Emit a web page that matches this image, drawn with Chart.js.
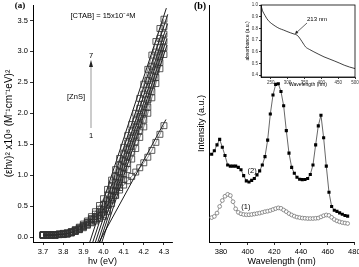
<!DOCTYPE html>
<html><head><meta charset="utf-8">
<script src="https://cdn.jsdelivr.net/npm/chart.js@4"></script>
<style>
html,body{margin:0;padding:0;background:#fff;}
#wrap{position:relative;width:359px;height:267px;overflow:hidden;background:#fff;}
.box{position:absolute;}
</style></head><body>
<div id="wrap">
<div class="box" style="left:0;top:0;width:180px;height:267px"><canvas id="ca"></canvas></div>
<div class="box" style="left:180px;top:0;width:179px;height:267px"><canvas id="cb"></canvas></div>
<div class="box" style="left:240px;top:0;width:119px;height:92px"><canvas id="ci"></canvas></div>
</div>
<script>
// ---------- Panel (a) data ----------
const energyA = [3.70,3.72,3.74,3.76,3.78,3.80,3.82,3.84,3.86,3.88,3.90,3.92,3.94,3.96,3.98,4.00,4.02,4.04,4.06,4.08,4.10,4.12,4.14,4.16,4.18,4.20,4.22,4.24,4.26,4.28,4.30];
const seriesA1 = [0.03,0.03,0.03,0.03,0.04,0.04,0.05,0.07,0.10,0.13,0.18,0.23,0.28,0.33,0.39,0.45,0.52,0.60,0.68,0.76,0.84,0.91,0.98,1.05,1.12,1.20,1.29,1.40,1.53,1.66,1.80];
const seriesA2 = [0.03,0.03,0.03,0.03,0.04,0.04,0.05,0.07,0.09,0.12,0.15,0.19,0.23,0.26,0.30,0.33,0.41,0.54,0.67,0.80,0.93,1.09,1.26,1.43,1.61,1.78,2.00,2.25,2.48,2.72,2.95];
const seriesA3 = [0.03,0.03,0.03,0.03,0.04,0.05,0.05,0.07,0.09,0.12,0.16,0.20,0.24,0.28,0.32,0.36,0.47,0.60,0.74,0.88,1.02,1.19,1.37,1.54,1.72,1.89,2.10,2.35,2.58,2.82,3.06];
const seriesA4 = [0.03,0.03,0.03,0.03,0.04,0.05,0.06,0.07,0.10,0.13,0.17,0.21,0.26,0.30,0.35,0.40,0.53,0.67,0.81,0.96,1.12,1.30,1.47,1.65,1.83,2.01,2.22,2.47,2.70,2.94,3.17];
const seriesA5 = [0.03,0.03,0.03,0.04,0.04,0.05,0.06,0.08,0.11,0.14,0.18,0.23,0.28,0.33,0.39,0.45,0.60,0.75,0.89,1.05,1.23,1.41,1.59,1.77,1.95,2.15,2.37,2.60,2.83,3.06,3.28];
const seriesA6 = [0.04,0.04,0.04,0.04,0.05,0.05,0.06,0.08,0.11,0.15,0.19,0.24,0.30,0.37,0.45,0.53,0.68,0.83,0.98,1.16,1.34,1.52,1.70,1.88,2.08,2.31,2.53,2.76,2.99,3.21,3.40];
const seriesA7 = [0.04,0.04,0.04,0.04,0.05,0.06,0.07,0.09,0.12,0.16,0.21,0.26,0.33,0.41,0.51,0.62,0.77,0.92,1.09,1.27,1.45,1.64,1.82,2.00,2.24,2.47,2.71,2.94,3.16,3.37,3.52];
const fitX0 = [3.975,3.99,3.98,3.97,3.958,3.945,3.93];
const fitY0 = [-0.10,-0.10,-0.10,-0.10,-0.10,-0.10,-0.10];
const fitX1 = [4.31,4.315,4.314,4.313,4.318,4.319,4.312];
const fitY1 = [1.90,3.10,3.20,3.30,3.45,3.60,3.70];
const xTicksA = [3.7,3.8,3.9,4.0,4.1,4.2,4.3];
const yTicksA = [0.0,0.5,1.0,1.5,2.0,2.5,3.0,3.5];

// ---------- Panel (b) data ----------
const wavelengthB = [373,375,377,379,381,383,385,387,389,391,393,395,397,399,401,403,405,407,409,411,413,415,417,419,421,423,425,427,429,431,433,435,437,439,441,443,445,447,449,451,453,455,457,459,461,463,465,467,469,471,473,475];
const seriesB2 = [37,38.5,41,43.3,40,36.5,32.5,32,32,32,31.5,30.5,28,25.8,25.3,26,26.8,28.3,30,32.5,36,43,54,62,66.5,66.8,63.5,57.5,47,37.5,31.5,29,27.3,26.5,26.3,26.4,26.8,28.5,32.5,41,49,53.5,44,32,21,15,13.4,12.9,12.3,11.7,11.2,10.9];
const seriesB1 = [10.3,10.8,12.2,15,17.5,19.3,20.1,19.6,17,14,12.5,11.9,11.6,11.5,11.5,11.6,11.8,12,12.2,12.5,12.8,13,13.3,13.7,14.1,14.4,14.2,13.5,12.8,12,11.4,10.9,10.5,10.3,10.1,10,9.9,9.9,9.9,10,10.1,10.6,11.1,11.4,11.2,10.4,9.5,8.9,8.5,8.2,8,7.8];
const xTicksB = [380,400,420,440,460,480];

// ---------- Inset data ----------
const insetNm = [221,225,229,233,238,243,253,263,275,288,298,308,316,323,328,333,338,343,348,353,365,378,393,408,423,438,453,468,484,500];
const insetAbs = [1.0,0.955,0.93,0.91,0.885,0.866,0.84,0.82,0.80,0.786,0.774,0.763,0.755,0.749,0.742,0.728,0.708,0.686,0.664,0.643,0.62,0.60,0.578,0.557,0.54,0.523,0.505,0.486,0.47,0.457];
const xTicksI = [250,300,350,400,450,500];
const yTicksI = [0.4,0.5,0.6,0.7,0.8,0.9,1.0];

const FONT = "'Liberation Sans', Arial, Helvetica, sans-serif";
const SERIF = "'Liberation Serif', 'Times New Roman', serif";
Chart.defaults.font.family = FONT;
Chart.defaults.color = '#000';

const pts = (xs, ys) => xs.map((x, i) => ({x: x, y: ys[i]}));
const setTicks = arr => s => { s.ticks = arr.map(v => ({value: v})); };
const fixH = h => s => { s.height = h; s.paddingLeft = 0; s.paddingRight = 0; };
const fixW = w => s => { s.width = w; s.paddingTop = 0; s.paddingBottom = 0; };
const axisGrid = len => ({display: true, drawOnChartArea: false, drawTicks: true, tickLength: len, color: '#000', lineWidth: 0.8});
const axisBorder = {display: true, color: '#000', width: 1};

// ---------- Chart (a) ----------
const aSeries = [seriesA1, seriesA2, seriesA3, seriesA4, seriesA5, seriesA6, seriesA7];
const dsA = [];
aSeries.forEach(s => dsA.push({
  data: pts(energyA, s), showLine: true, borderColor: '#222', borderWidth: 0.5,
  pointStyle: 'rect', pointRadius: 4.2, pointBorderWidth: 0.8,
  pointBorderColor: '#333', pointBackgroundColor: 'rgba(0,0,0,0)'
}));
fitX0.forEach((x0, i) => dsA.push({
  data: [{x: x0, y: fitY0[i]}, {x: fitX1[i], y: fitY1[i]}],
  showLine: true, borderColor: '#000', borderWidth: 0.9, pointRadius: 0
}));

const annotA = {
  id: 'annotA',
  afterDraw(chart) {
    const c = chart.ctx;
    c.save();
    c.fillStyle = '#000';
    c.textAlign = 'center'; c.textBaseline = 'middle';
    c.font = 'bold 9px ' + SERIF;
    c.fillText('(a)', 20, 6);
    c.font = '7.5px ' + FONT;
    c.fillText('[CTAB] = 15x10⁻⁴M', 103, 15.5);
    c.fillText('7', 91, 56);
    c.fillText('1', 91, 136);
    c.fillText('[ZnS]', 76, 97);
    c.strokeStyle = '#999'; c.lineWidth = 1;
    c.beginPath(); c.moveTo(91, 128); c.lineTo(91, 66); c.stroke();
    c.fillStyle = '#222';
    c.beginPath(); c.moveTo(91, 60); c.lineTo(89, 67); c.lineTo(93, 67); c.closePath(); c.fill();
    c.restore();
  }
};

new Chart(document.getElementById('ca'), {
  type: 'line',
  data: {datasets: dsA},
  options: {
    responsive: true, maintainAspectRatio: false, animation: false, devicePixelRatio: 1,
    layout: {padding: {left: 0, top: 5, right: 8, bottom: 0}},
    plugins: {legend: {display: false}, tooltip: {enabled: false}},
    scales: {
      x: {type: 'linear', min: 3.65, max: 4.34,
        afterBuildTicks: setTicks(xTicksA), afterFit: fixH(25),
        ticks: {font: {size: 7.5}, padding: 2, maxRotation: 0, callback: v => v.toFixed(1)},
        grid: axisGrid(3), border: axisBorder,
        title: {display: true, text: 'hν (eV)', font: {size: 9}, padding: {top: 0, bottom: 0}}},
      y: {type: 'linear', min: -0.08, max: 3.75,
        afterBuildTicks: setTicks(yTicksA), afterFit: fixW(33),
        ticks: {font: {size: 7.5}, padding: 2, callback: v => v.toFixed(1)},
        grid: axisGrid(3), border: axisBorder,
        title: {display: true, text: '(εhν)² x10⁸ (M⁻¹cm⁻¹eV)²', font: {size: 10}, padding: {top: 3, bottom: 0}}}
    }
  },
  plugins: [annotA]
});

// ---------- Chart (b) ----------
const annotB = {
  id: 'annotB',
  afterDraw(chart) {
    const c = chart.ctx, xs = chart.scales.x, ys = chart.scales.y;
    c.save();
    c.fillStyle = '#000';
    c.textAlign = 'center'; c.textBaseline = 'middle';
    c.font = 'bold 10px ' + SERIF;
    c.fillText('(b)', 20, 6);
    c.font = '7.5px ' + FONT;
    c.fillText('(1)', xs.getPixelForValue(398.6), ys.getPixelForValue(14.8));
    c.fillText('(2)', xs.getPixelForValue(403.3), ys.getPixelForValue(30));
    c.restore();
  }
};

new Chart(document.getElementById('cb'), {
  type: 'line',
  data: {datasets: [
    {data: pts(wavelengthB, seriesB2), borderColor: '#000', borderWidth: 0.6,
     pointStyle: 'rect', pointRadius: 2.2, pointBorderWidth: 0,
     pointBackgroundColor: '#000'},
    {data: pts(wavelengthB, seriesB1), borderColor: '#777', borderWidth: 0.7,
     pointStyle: 'circle', pointRadius: 1.9, pointBorderWidth: 0.7,
     pointBorderColor: '#666', pointBackgroundColor: '#fff'}
  ]},
  options: {
    responsive: true, maintainAspectRatio: false, animation: false, devicePixelRatio: 1,
    layout: {padding: {left: 0, top: 5, right: 4, bottom: 0}},
    plugins: {legend: {display: false}, tooltip: {enabled: false}},
    scales: {
      x: {type: 'linear', min: 371, max: 480,
        afterBuildTicks: setTicks(xTicksB), afterFit: fixH(25),
        ticks: {font: {size: 7.5}, padding: 2, maxRotation: 0},
        grid: axisGrid(3), border: axisBorder,
        title: {display: true, text: 'Wavelength (nm)', font: {size: 9}, padding: {top: 0, bottom: 0}}},
      y: {type: 'linear', min: 0, max: 100, afterFit: fixW(29),
        ticks: {display: false}, grid: {display: false}, border: axisBorder,
        title: {display: true, text: 'Intensity (a.u.)', font: {size: 9}, padding: {top: 16, bottom: 0}}}
    }
  },
  plugins: [annotB]
});

// ---------- Inset ----------
const annotI = {
  id: 'annotI',
  afterDraw(chart) {
    const c = chart.ctx, a = chart.chartArea;
    c.save();
    c.strokeStyle = '#000'; c.lineWidth = 0.8;
    c.strokeRect(a.left, a.top, a.right - a.left, a.bottom - a.top);
    c.fillStyle = '#000';
    c.font = '6px ' + FONT; c.textAlign = 'center'; c.textBaseline = 'middle';
    c.fillText('213 nm', 77, 19);
    c.strokeStyle = '#222'; c.lineWidth = 0.7;
    c.beginPath(); c.moveTo(67, 23); c.lineTo(56, 33); c.stroke();
    c.fillStyle = '#222';
    c.beginPath(); c.moveTo(55, 34); c.lineTo(56.2, 30.6); c.lineTo(58.4, 33); c.closePath(); c.fill();
    c.restore();
  }
};

new Chart(document.getElementById('ci'), {
  type: 'line',
  data: {datasets: [
    {data: pts(insetNm, insetAbs), borderColor: '#111', borderWidth: 0.8, pointRadius: 0,
     cubicInterpolationMode: 'monotone'}
  ]},
  options: {
    responsive: true, maintainAspectRatio: false, animation: false, devicePixelRatio: 1,
    layout: {padding: {left: 0, top: 5, right: 4, bottom: 0}},
    plugins: {legend: {display: false}, tooltip: {enabled: false}},
    scales: {
      x: {type: 'linear', min: 221, max: 500,
        afterBuildTicks: setTicks(xTicksI), afterFit: fixH(15),
        ticks: {font: {size: 4.5}, padding: 1, maxRotation: 0, color: '#333'},
        grid: axisGrid(2), border: {display: true, color: '#000', width: 0.8},
        title: {display: true, text: 'Wavelength (nm)', font: {size: 5}, padding: {top: 0, bottom: 4}}},
      y: {type: 'linear', min: 0.385, max: 1.0,
        afterBuildTicks: setTicks(yTicksI), afterFit: fixW(21),
        ticks: {font: {size: 4.5}, padding: 1, color: '#333', callback: v => v.toFixed(1)},
        grid: axisGrid(2), border: {display: true, color: '#000', width: 0.8},
        title: {display: true, text: 'absorbance (a.u.)', font: {size: 5}, padding: {top: 5, bottom: 0}}}
    }
  },
  plugins: [annotI]
});
</script>
</body></html>
